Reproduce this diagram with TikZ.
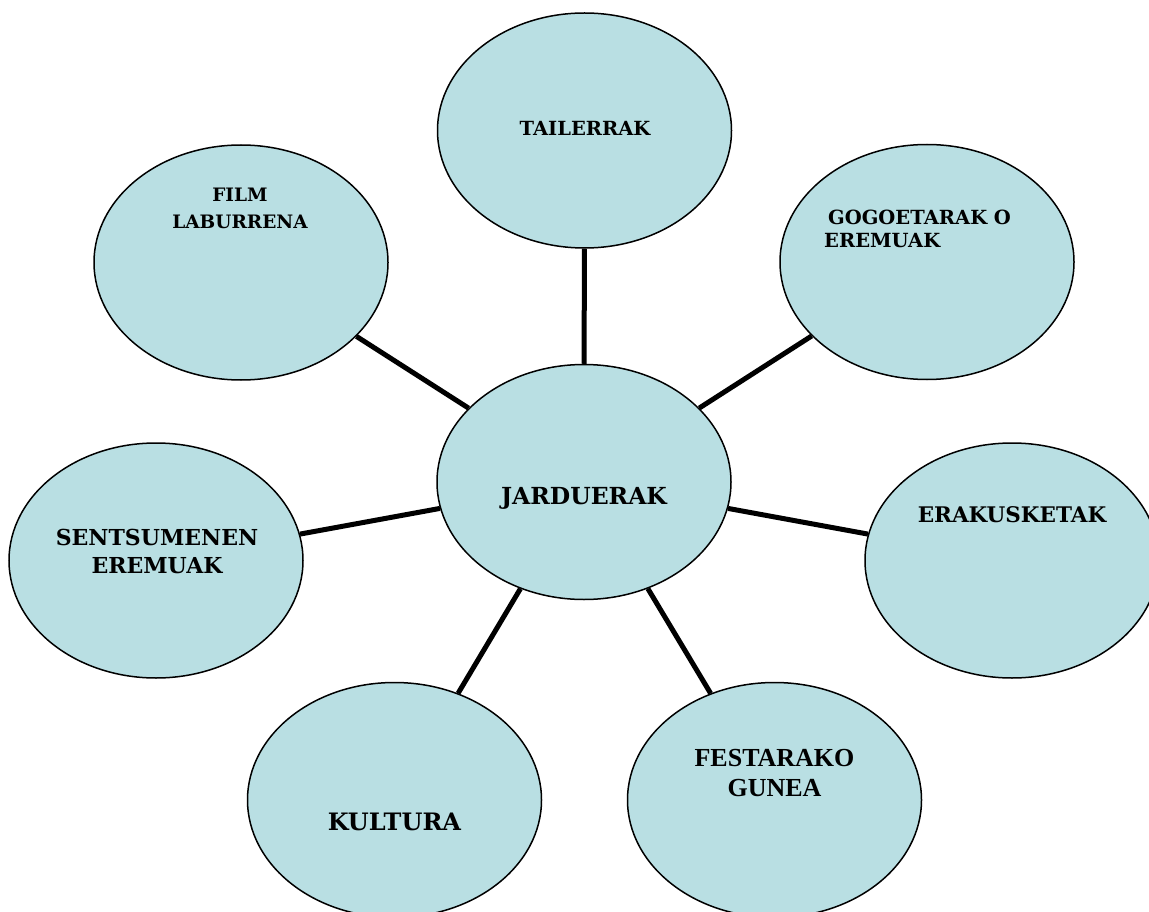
\documentclass[tikz,border=0pt]{standalone}
\usepackage{fontspec}
\setmainfont{DejaVu Serif}
\newfontfamily\timesfont{Liberation Serif}
\usepackage{tikz}
\usetikzlibrary{shapes,positioning,calc}
\definecolor{bubblefill}{HTML}{B9DFE3}

\tikzset{
    bubble/.style={ellipse, draw, line width=1.5pt, fill=bubblefill,
        minimum width=294pt, minimum height=235pt, inner sep=0pt},
    spoke/.style={line width=5pt},
    lbl/.style={font=\bfseries, inner sep=0pt, align=center}
}

\begin{document}
\begin{tikzpicture}[x=1pt, y=-1pt]
    \useasboundingbox (0,0) rectangle (1149,912);

    % Bubbles
    \node[bubble] (jard) at (584,482) {};
    \node[bubble] (tail) at (584.5,130.5) {};
    \node[bubble] (film) at (241,262.5) {};
    \node[bubble] (gogo) at (927,262) {};
    \node[bubble] (sents) at (156,560.5) {};
    \node[bubble] (erak) at (1012,560.5) {};
    \node[bubble] (kult) at (394.5,800) {};
    \node[bubble] (fest) at (774.5,800) {};

    % Spokes
    \foreach \n in {tail,film,gogo,sents,erak,kult,fest}
        \draw[spoke] (jard) -- (\n);

    % Texts
    \node[lbl, font=\bfseries\fontsize{23.5}{28}\selectfont] (tjard) at (584,498) {JARDUERAK};
    \node[lbl, font=\bfseries\fontsize{19.5}{23}\selectfont] (ttail) at (585,128) {TAILERRAK};
    \node[lbl, font=\bfseries\fontsize{18.5}{27}\selectfont] (tfilm) at (240,208) {FILM\\LABURRENA};
    \node[lbl, align=left, anchor=west, font=\bfseries\fontsize{19.5}{22.7}\selectfont] (tgogo) at (824,229) {\hspace*{4pt}GOGOETARAK O\\EREMUAK};
    \node[lbl, font=\bfseries\fontsize{22}{28}\selectfont] (tsents) at (157,551) {SENTSUMENEN\\EREMUAK};
    \node[lbl, font=\bfseries\fontsize{21.5}{26}\selectfont] (terak) at (1012,515) {ERAKUSKETAK};
    \node[lbl, font=\bfseries\fontsize{24}{28}\selectfont] (tkult) at (394.5,822) {KULTURA};
    \node[lbl, font=\timesfont\bfseries\fontsize{26}{30}\selectfont] (tfest) at (774.5,773) {FESTARAKO\\GUNEA};
\end{tikzpicture}
\end{document}
